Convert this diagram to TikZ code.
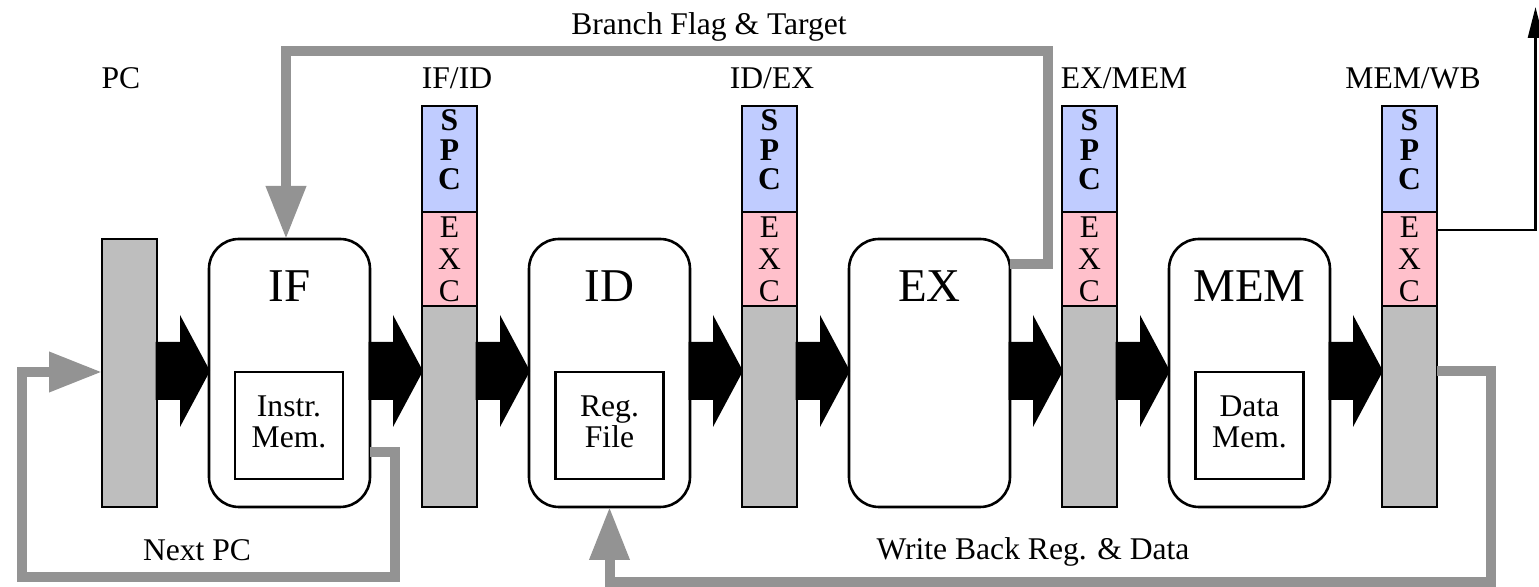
\documentclass[tikz,border=0pt]{standalone}
\usepackage{fontspec}
\setmainfont{Liberation Serif}
\usetikzlibrary{calc,arrows.meta}
\definecolor{spcblue}{RGB}{192,204,255}
\definecolor{excpink}{RGB}{255,192,203}
\definecolor{reggray}{RGB}{190,190,190}
\definecolor{fbgray}{RGB}{147,147,147}
\newcommand\smallsize{\fontsize{15.8pt}{15.5pt}\selectfont}
\newcommand\bigsize{\fontsize{23.5pt}{28pt}\selectfont}
\tikzset{
  outline/.style={draw=black,line width=1.3pt,inner sep=0pt,outer sep=0pt},
  regbody/.style={outline,fill=reggray,minimum width=27.5pt},
  spcpart/.style={outline,fill=spcblue,minimum width=27.5pt,minimum height=53pt},
  excpart/.style={outline,fill=excpink,minimum width=27.5pt,minimum height=47pt},
  stagebox/.style={outline,rounded corners=15pt,fill=white,minimum width=80.5pt,minimum height=134pt},
  unitbox/.style={outline,fill=white,minimum width=54pt,minimum height=53.5pt},
  txt/.style={inner sep=0pt,outer sep=0pt,anchor=base,font=\smallsize},
  boldtxt/.style={txt,font=\smallsize\bfseries},
  stagelabel/.style={inner sep=0pt,outer sep=0pt,anchor=base,font=\bigsize},
  fbline/.style={draw=fbgray,line width=5pt,line join=miter,line cap=butt,
    -{Triangle[length=26.5pt,width=19pt]}},
  fbstart/.style={draw=fbgray,line width=5pt,line join=miter,line cap=butt},
  excline/.style={draw=black,line width=1.3pt,line join=miter,
    -{Triangle[length=15.5pt,width=7.5pt]}},
}
\newcommand\bigarrow[2]{%
  \path (#1.east |- ay) coordinate (#1-out) (#2.west |- ay) coordinate (#2-in);
  \fill[black] ($(#1-out)+(-1.5,-29)$) -- ($(#2-in)+(-29,-29)$) -- ($(#2-in)+(-29,-56)$)
    -- ($(#2-in)+(1,0)$) -- ($(#2-in)+(-29,56)$) -- ($(#2-in)+(-29,29)$)
    -- ($(#1-out)+(-1.5,29)$) -- cycle;}
\begin{document}
\begin{tikzpicture}[x=0.5pt,y=-0.5pt]
\useasboundingbox (0,0) rectangle (1539,587);
\coordinate (ay) at (0,371);
% PC register
\node[regbody,minimum height=134pt] (pc) at (129.5,373) {};
\node[txt] (pc-lab) at (121,89) {PC};
% pipeline registers
\foreach \r/\cx in {ifid/449.5,idex/769.5,exmem/1089.5,memwb/1409.5}{
  \node[spcpart] (\r-s) at (\cx,159) {};
  \node[excpart] (\r-e) at (\cx,259) {};
  \node[regbody,minimum height=100.5pt] (\r-g) at (\cx,406.5) {};
  \node[boldtxt] (\r-l1) at (\cx,131) {S};
  \node[boldtxt] (\r-l2) at (\cx,161) {P};
  \node[boldtxt] (\r-l3) at (\cx,190) {C};
  \node[txt] (\r-l4) at (\cx,238) {E};
  \node[txt] (\r-l5) at (\cx,270) {X};
  \node[txt] (\r-l6) at (\cx,302) {C};
}
\node[txt] (ifid-lab) at (457,89) {IF/ID};
\node[txt] (idex-lab) at (772,89) {ID/EX};
\node[txt] (exmem-lab) at (1124,89) {EX/MEM};
\node[txt] (memwb-lab) at (1413,89) {MEM/WB};
% stages
\foreach \s/\cx/\lab in {if/289.5/IF,id/609.5/ID,ex/929.5/EX,mem/1249.5/MEM}{
  \node[stagebox] (\s) at (\cx,373) {};
  \node[stagelabel] (\s-lab) at (\cx,302) {\lab};
}
\node[unitbox] (imem) at (289,425.5) {};
\node[txt] (imem-t1) at (289,417) {Instr.};
\node[txt] (imem-t2) at (289,448) {Mem.};
\node[unitbox] (rf) at (609.5,425.5) {};
\node[txt] (rf-t1) at (609.5,417) {Reg.};
\node[txt] (rf-t2) at (609.5,448) {File};
\node[unitbox] (dmem) at (1249.5,425.5) {};
\node[txt] (dmem-t1) at (1249.5,417) {Data};
\node[txt] (dmem-t2) at (1249.5,448) {Mem.};
% big data-path arrows
\bigarrow{pc}{if}
\bigarrow{if}{ifid-g}
\bigarrow{ifid-g}{id}
\bigarrow{id}{idex-g}
\bigarrow{idex-g}{ex}
\bigarrow{ex}{exmem-g}
\bigarrow{exmem-g}{mem}
\bigarrow{mem}{memwb-g}
% feedback paths
\coordinate (np0) at (0,452);
\coordinate (np1) at (395,577);
\coordinate (np2) at (22,372);
\draw[fbline] (if.east |- np0) -| (np1) -| (np2) -- (pc.west |- np2);
\node[txt] (np-lab) at (197,561) {Next PC};
\coordinate (br0) at (0,264);
\coordinate (br1) at (1048,51);
\coordinate (br2) at (286,0);
\draw[fbline] (ex.east |- br0) -| (br1) -| (br2 |- if.north);
\node[txt] (br-lab) at (709,35) {Branch Flag \& Target};
\coordinate (wb1) at (1491,582);
\draw[fbline] (memwb-g.east |- ay) -| (wb1) -| (id.south);
\node[txt] (wb-lab) at (1033,560) {Write Back Reg. \& Data};
% exception output
\coordinate (ex0) at (0,230);
\coordinate (ex1) at (1535.5,7);
\draw[excline] (memwb-e.east |- ex0) -| (ex1);
\end{tikzpicture}
\end{document}
